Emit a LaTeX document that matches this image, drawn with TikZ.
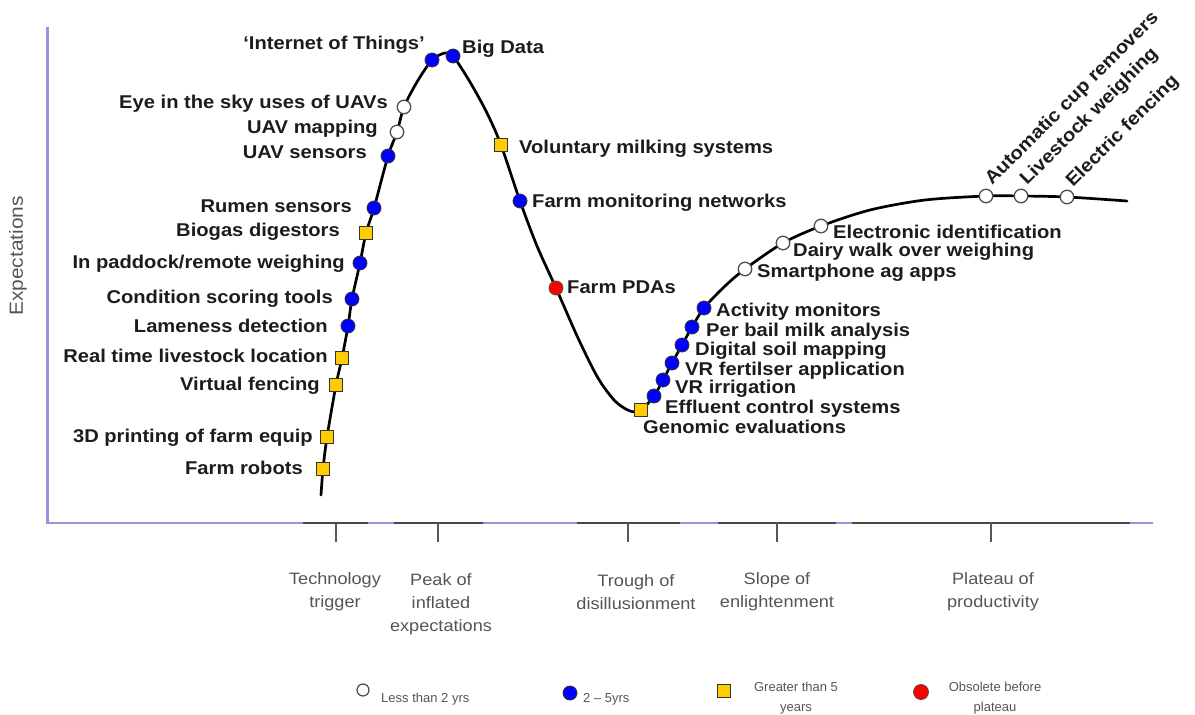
\documentclass[tikz,border=0pt]{standalone}
\usepackage{fontspec}
\setmainfont{Liberation Sans}
\newfontfamily\lblfont[FakeStretch=1.09]{Liberation Sans}
\newfontfamily\axfont[FakeStretch=1.1]{Liberation Sans}
\definecolor{axblue}{RGB}{150,150,222}
\definecolor{gold}{RGB}{255,204,0}
\definecolor{txt}{RGB}{28,28,28}
\definecolor{gtxt}{RGB}{85,85,85}
\begin{document}
\begin{tikzpicture}[x=1pt,y=-1pt,
  lbl/.style={font=\lblfont\bfseries\fontsize{18.5}{20}\selectfont, text=txt, inner sep=0pt, text height=12pt, text depth=0pt},
  rlbl/.style={font=\lblfont\bfseries\fontsize{18.5}{20}\selectfont, text=txt, inner sep=0pt, rotate=45, anchor=base west},
  phase/.style={font=\axfont\fontsize{16.5}{23}\selectfont, text=gtxt, align=center, inner sep=0pt},
  leg/.style={font=\fontsize{13}{20}\selectfont, text=gtxt, align=center, inner sep=0pt},
  wht/.style={circle, draw=black!70, fill=white, line width=1.3pt, minimum size=13.5pt, inner sep=0pt},
  blu/.style={circle, draw=black!80, fill=blue, line width=0.8pt, minimum size=14pt, inner sep=0pt},
  yel/.style={rectangle, draw=black!80, fill=gold, line width=1pt, minimum size=13.5pt, inner sep=0pt},
  rd/.style={circle, draw=black!70, fill=red, line width=0.8pt, minimum size=14pt, inner sep=0pt},
  axisline/.style={line width=2.6pt},
  tickline/.style={black!65, line width=2pt}
]
\useasboundingbox (0,0) rectangle (1195,715);

% axes
\draw[axblue, axisline] (47.5,27) -- (47.5,523) -- (1153,523);
\foreach \a/\b in {303/368, 394/483, 577/680, 718/836, 852/1130}
  \draw[black!72, axisline] (\a,523) -- (\b,523);
\foreach \x in {336,438,628,777,991}
  \draw[tickline] (\x,523) -- (\x,542);

\node[rotate=90, font=\axfont\fontsize{19}{20}\selectfont, text=gtxt] (ylab) at (18,256) {Expectations};

% phase labels
\node[phase] (ph1) at (335,592) {Technology\\trigger};
\node[phase] (ph2) at (441,604) {Peak of\\inflated\\expectations};
\node[phase] (ph3) at (636,592) {Trough of\\disillusionment};
\node[phase] (ph4) at (777,592) {Slope of\\enlightenment};
\node[phase] (ph5) at (993,592) {Plateau of\\productivity};

% hype curve
\draw[black, line width=2.7pt, line cap=round] plot[smooth, tension=0.5] coordinates {
 (321,495) (323,469) (327,437) (336,385) (342,358) (348,326) (352,299) (360,263)
 (366,233) (374,208) (388,156) (397,132) (404,107) (417,82) (432,60) (445,53) (453,56)
 (470,82) (487,113) (501,145) (520,201) (537,246) (556,288) (578,338) (598,378)
 (615,401) (630,411) (641,410) (654,396) (663,380) (672,363) (682,345) (692,327)
 (704,308) (724,287) (745,269) (783,243) (821,226) (870,210) (925,200) (986,196)
 (1021,196) (1067,197) (1127,201)};

% markers - rising
\node[yel] (m1) at (323,469) {};
\node[yel] (m2) at (327,437) {};
\node[yel] (m3) at (336,385) {};
\node[yel] (m4) at (342,358) {};
\node[blu] (m5) at (348,326) {};
\node[blu] (m6) at (352,299) {};
\node[blu] (m7) at (360,263) {};
\node[yel] (m8) at (366,233) {};
\node[blu] (m9) at (374,208) {};
\node[blu] (m10) at (388,156) {};
\node[wht] (m11) at (397,132) {};
\node[wht] (m12) at (404,107) {};
\node[blu] (m13) at (432,60) {};
\node[blu] (m14) at (453,56) {};
% falling
\node[yel] (m15) at (501,145) {};
\node[blu] (m16) at (520,201) {};
\node[rd] (m17) at (556,288) {};
% trough / slope
\node[yel] (m18) at (641,410) {};
\node[blu] (m19) at (654,396) {};
\node[blu] (m20) at (663,380) {};
\node[blu] (m21) at (672,363) {};
\node[blu] (m22) at (682,345) {};
\node[blu] (m23) at (692,327) {};
\node[blu] (m24) at (704,308) {};
\node[wht] (m25) at (745,269) {};
\node[wht] (m26) at (783,243) {};
\node[wht] (m27) at (821,226) {};
% plateau
\node[wht] (m28) at (986,196) {};
\node[wht] (m29) at (1021,196) {};
\node[wht] (m30) at (1067,197) {};

% labels left
\node[lbl, anchor=east] (l13) at (425,43) {‘Internet of Things’};
\node[lbl, anchor=east] (l12) at (388,102) {Eye in the sky uses of UAVs};
\node[lbl, anchor=east] (l11) at (378,127) {UAV mapping};
\node[lbl, anchor=east] (l10) at (367,152) {UAV sensors};
\node[lbl, anchor=east] (l9) at (352,206) {Rumen sensors};
\node[lbl, anchor=east] (l8) at (340,230) {Biogas digestors};
\node[lbl, anchor=east] (l7) at (345,262) {In paddock/remote weighing};
\node[lbl, anchor=east] (l6) at (333,297) {Condition scoring tools};
\node[lbl, anchor=east] (l5) at (328,326) {Lameness detection};
\node[lbl, anchor=east] (l4) at (328,356) {Real time livestock location};
\node[lbl, anchor=east] (l3) at (320,384) {Virtual fencing};
\node[lbl, anchor=east] (l2) at (313,436) {3D printing of farm equip};
\node[lbl, anchor=east] (l1) at (303,468) {Farm robots};
% labels right
\node[lbl, anchor=west] (l14) at (462,47) {Big Data};
\node[lbl, anchor=west] (l15) at (519,147) {Voluntary milking systems};
\node[lbl, anchor=west] (l16) at (532,201) {Farm monitoring networks};
\node[lbl, anchor=west] (l17) at (567,287) {Farm PDAs};
\node[lbl, anchor=west] (l27) at (833,232) {Electronic identification};
\node[lbl, anchor=west] (l26) at (793,250) {Dairy walk over weighing};
\node[lbl, anchor=west] (l25) at (757,271) {Smartphone ag apps};
\node[lbl, anchor=west] (l24) at (716,310) {Activity monitors};
\node[lbl, anchor=west] (l23) at (706,330) {Per bail milk analysis};
\node[lbl, anchor=west] (l22) at (695,349) {Digital soil mapping};
\node[lbl, anchor=west] (l21) at (685,369) {VR fertilser application};
\node[lbl, anchor=west] (l20) at (675,387) {VR irrigation};
\node[lbl, anchor=west] (l19) at (665,407) {Effluent control systems};
\node[lbl, anchor=west] (l18) at (643,427) {Genomic evaluations};
% rotated plateau labels
\node[rlbl] (l28) at (992,186) {Automatic cup removers};
\node[rlbl] (l29) at (1027,186) {Livestock weighing};
\node[rlbl] (l30) at (1073,188) {Electric fencing};

% legend
\node[wht, minimum size=12pt, line width=1.2pt] (g1) at (363,690) {};
\node[leg, anchor=west] (gt1) at (381,699) {Less than 2 yrs};
\node[blu, minimum size=14pt] (g2) at (570,693) {};
\node[leg, anchor=west] (gt2) at (583,699) {2 – 5yrs};
\node[yel, minimum size=13.5pt] (g3) at (724,691) {};
\node[leg] (gt3) at (796,698) {Greater than 5\\years};
\node[rd, minimum size=15pt] (g4) at (921,692) {};
\node[leg] (gt4) at (995,698) {Obsolete before\\plateau};
\end{tikzpicture}
\end{document}
